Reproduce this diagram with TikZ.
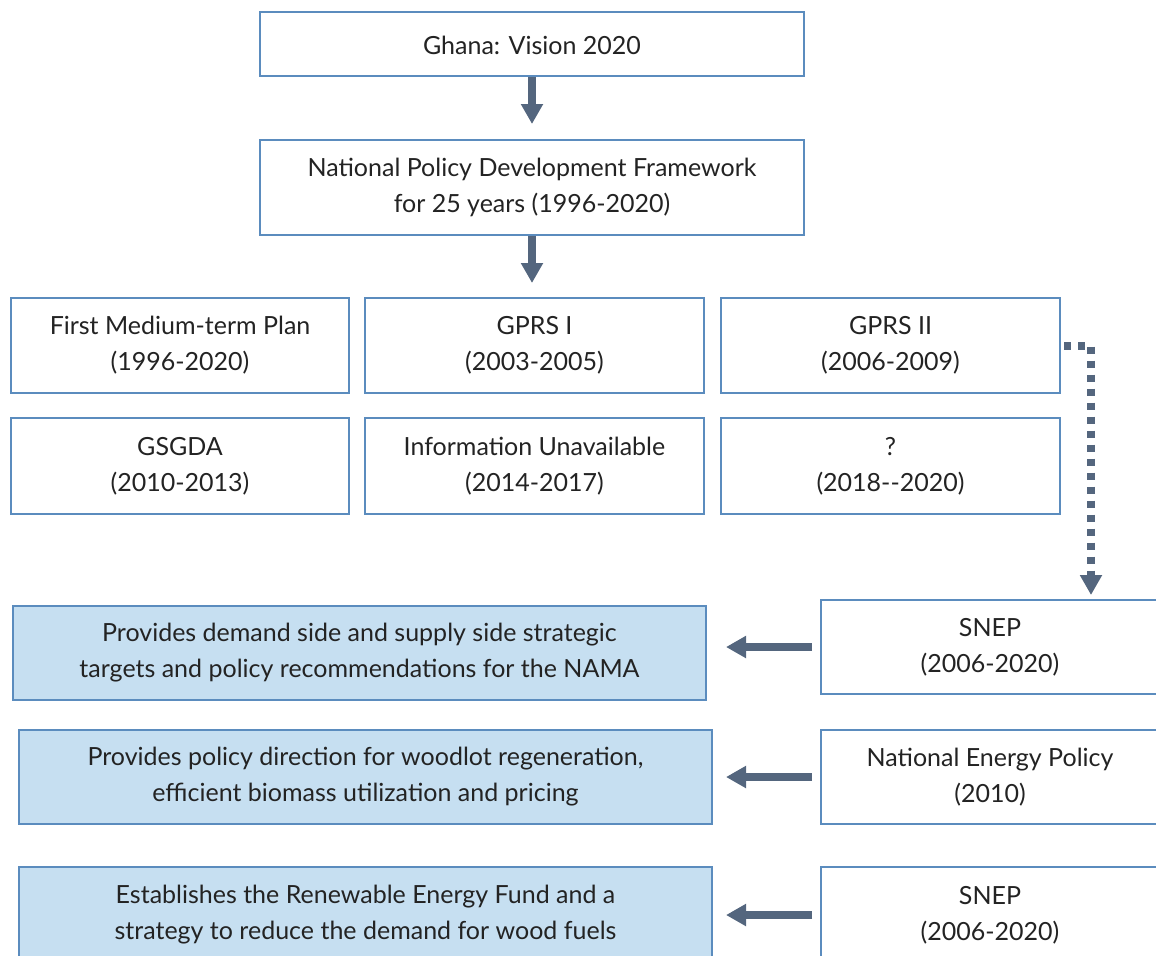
\documentclass[tikz,border=0pt]{standalone}
\usepackage{fontspec}
\setmainfont{Lato}
\usetikzlibrary{arrows.meta,calc}
\definecolor{edge}{RGB}{91,140,190}
\definecolor{paleblue}{RGB}{198,223,241}
\definecolor{arrowgray}{RGB}{84,102,126}
\definecolor{ink}{RGB}{35,35,35}
\begin{document}
\begin{tikzpicture}[x=0.5pt,y=-0.5pt,
  box/.style={draw=edge,line width=1pt,fill=white,inner sep=0pt,align=center,
    text=ink,anchor=north west,font=\fontsize{12.5}{18}\selectfont,
    execute at begin node={\rule{0pt}{11pt}}},
  note/.style={box,fill=paleblue},
  flow/.style={draw=arrowgray,line width=4pt,
    -{Triangle[width=10.5pt,length=10pt]},arrowgray},
  dots/.style={flow,dash pattern=on 3.5pt off 3.5pt}
]
\useasboundingbox (0,0) rectangle (1156,955);
\clip (0,0) rectangle (1156,955);

% top of the hierarchy
\node[box,minimum width=272pt,minimum height=32pt] (vision) at (259,11) {Ghana: Vision 2020};
\node[box,minimum width=272pt,minimum height=47.5pt] (npdf) at (259,139)
  {National Policy Development Framework\\for 25 years (1996-2020)};

% medium-term plans
\node[box,minimum width=169pt,minimum height=47.5pt] (fmtp) at (10,297) {First Medium-term Plan\\(1996-2020)};
\node[box,minimum width=169.5pt,minimum height=47.5pt] (gprs1) at (364,297) {GPRS I\\(2003-2005)};
\node[box,minimum width=169.5pt,minimum height=47.5pt] (gprs2) at (720,297) {GPRS II\\(2006-2009)};
\node[box,minimum width=169pt,minimum height=48pt] (gsgda) at (10,417) {GSGDA\\(2010-2013)};
\node[box,minimum width=169.5pt,minimum height=48pt] (unavail) at (364,417) {Information Unavailable\\(2014-2017)};
\node[box,minimum width=169.5pt,minimum height=48pt] (unknown) at (720,417) {?\\(2018-{}-2020)};

% sector policies
\node[box,minimum width=169pt,minimum height=47pt] (snep1) at (820,599) {SNEP\\(2006-2020)};
\node[box,minimum width=169pt,minimum height=47pt] (nep) at (820,729) {National Energy Policy\\(2010)};
\node[box,minimum width=169pt,minimum height=48pt] (snep2) at (820,866) {SNEP\\(2006-2020)};

% what each policy provides
\node[note,minimum width=346.5pt,minimum height=47pt] (nama) at (12,605)
  {Provides demand side and supply side strategic\\targets and policy recommendations for the NAMA};
\node[note,minimum width=346.5pt,minimum height=47pt] (woodlot) at (18,729)
  {Provides policy direction for woodlot regeneration,\\efficient biomass utilization and pricing};
\node[note,minimum width=346.5pt,minimum height=48pt] (fund) at (18,866)
  {Establishes the Renewable Energy Fund and a\\strategy to reduce the demand for wood fuels};

% connectors
\draw[flow,shorten >=7.5pt] (vision.south) -- (npdf.north);
\draw[flow,shorten >=7pt] (npdf.south) -- (npdf.south |- gprs1.north);

\coordinate (drop) at (1091,599);
\draw[dots,shorten <=1.5pt,shorten >=2pt] (gprs2.east) -| (drop);

\draw[flow,shorten <=4pt,shorten >=9.5pt] (snep1.west) -- (snep1.west -| nama.east);
\draw[flow,shorten <=4pt,shorten >=6.5pt] (nep.west) -- (nep.west -| woodlot.east);
\draw[flow,shorten <=4pt,shorten >=6.5pt] (snep2.west) -- (snep2.west -| fund.east);
\end{tikzpicture}
\end{document}
